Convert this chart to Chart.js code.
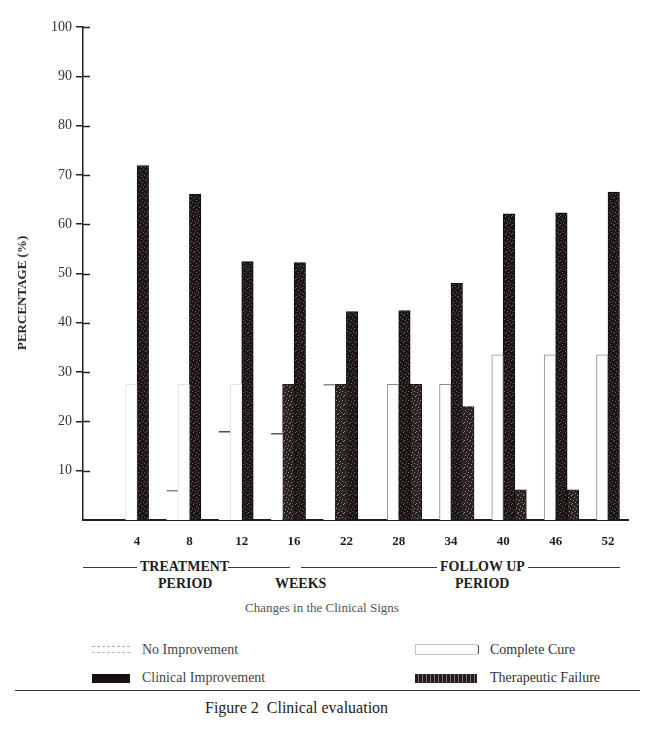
<!DOCTYPE html>
<html>
<head>
<meta charset="utf-8">
<script src="https://cdn.jsdelivr.net/npm/chart.js@4.4.1/dist/chart.umd.min.js"></script>
<style>
  body { margin: 0; background: #fff; }
  #wrap { position: relative; width: 650px; height: 732px; font-family: "Liberation Serif", "DejaVu Serif", serif; color: #333; overflow: hidden; }
  #chartBox { position: absolute; left: 0; top: 0; width: 650px; height: 548px; }
  .t { position: absolute; white-space: nowrap; line-height: 16px; height: 16px; }
  .b { font-weight: bold; font-size: 14px; color: #1e1e1e; }
  .rule { position: absolute; height: 0; border-top: 1.5px solid #3a3a3a; }
  .sw { position: absolute; }
</style>
</head>
<body>
<div id="wrap">
  <div id="chartBox"><canvas id="bars"></canvas></div>

  <div class="t b" style="left:22px;top:293px;font-size:13px;transform:translate(-50%,-50%) rotate(-90deg);">PERCENTAGE (%)</div>

  <!-- period brackets under the axis -->
  <div class="rule" style="left:83px;width:54px;top:567px;"></div>
  <div class="t b" style="left:140px;top:559px;">TREATMENT</div>
  <div class="rule" style="left:228px;width:62px;top:567px;"></div>
  <div class="rule" style="left:301px;width:136px;top:567px;"></div>
  <div class="t b" style="left:440px;top:559px;">FOLLOW UP</div>
  <div class="rule" style="left:528px;width:92px;top:567px;"></div>
  <div class="t b" style="left:158px;top:576px;">PERIOD</div>
  <div class="t b" style="left:275px;top:576px;">WEEKS</div>
  <div class="t b" style="left:455px;top:576px;">PERIOD</div>

  <div class="t" style="left:245px;top:600px;font-size:13px;color:#555;">Changes in the Clinical Signs</div>

  <!-- legend -->
  <div class="sw" style="left:92px;top:646px;width:38px;height:5px;border-top:1px dashed #aaa;border-bottom:1px dashed #bbb;"></div>
  <div class="t" style="left:142px;top:642px;font-size:14px;color:#444;">No Improvement</div>
  <div class="sw" style="left:415px;top:644px;width:62px;height:9px;border:1px solid #c4c4c4;border-right:1.5px solid #444;border-radius:0 3px 3px 0;"></div>
  <div class="t" style="left:490px;top:642px;font-size:14px;color:#333;">Complete Cure</div>
  <div class="sw" style="left:92px;top:674px;width:38px;height:9px;background:#161111;"></div>
  <div class="t" style="left:142px;top:670px;font-size:14px;color:#444;">Clinical Improvement</div>
  <div class="sw" style="left:415px;top:674px;width:62px;height:9px;background:repeating-linear-gradient(90deg,#231b1b 0 3px,#7a7070 3px 4px);"></div>
  <div class="t" style="left:490px;top:670px;font-size:14px;color:#333;">Therapeutic Failure</div>

  <div class="rule" style="left:15px;width:625px;top:690px;"></div>
  <div class="t" style="left:205px;top:700px;font-size:16px;color:#222;">Figure 2&nbsp; Clinical evaluation</div>
</div>

<script>
// Week labels along the x axis
const weeks = ['4', '8', '12', '16', '22', '28', '34', '40', '46', '52'];

// Percentages per group (null = no bar)
const noImprovement = [null, 6, 18, 17.6, 27.5, null, null, null, null, null];
const completeCure = [27.5, 27.5, 27.5, 27.5, 27.5, 27.5, 27.5, 33.5, 33.5, 33.5];
const clinicalImprovement = [71.9, 66.1, 52.4, 52.2, 42.3, 42.5, 48.0, 62.1, 62.3, 66.5];
const therapeuticFailure = [null, null, null, null, null, 27.5, 23, 6.1, 6.1, null];

// Y tick values
const yTicks = [10, 20, 30, 40, 50, 60, 70, 80, 90, 100];

// small fixed speckle texture for the dark bars
function speckle(base, dot) {
  const c = document.createElement('canvas');
  c.width = 6;
  c.height = 9;
  const g = c.getContext('2d');
  g.fillStyle = base;
  g.fillRect(0, 0, 6, 9);
  g.fillStyle = dot;
  [[1, 0], [4, 2], [0, 4], [3, 5], [5, 7], [2, 8]].forEach(([x, y]) => g.fillRect(x, y, 1, 1));
  return g.createPattern(c, 'repeat');
}

const darkFill = speckle('#1b1515', '#6e6464');
const textureFill = speckle('#2a2121', '#9a9090');

const toPoints = arr => arr.map((v, i) => ({ x: i + 1, y: v }));

// the scan shows the cure bars of weeks 16 and 22 shaded, and the early ones barely visible
const cureFill = completeCure.map((v, i) => (i === 3 || i === 4) ? textureFill : '#ffffff');
const cureBorder = completeCure.map((v, i) => i < 3 ? '#e2e2e2' : (i < 5 ? '#2a2121' : '#8a8a8a'));
const noImpBorder = ['#999', '#8a8a8a', '#4a4a4a', '#5a5a5a', '#8a8a8a', '#999', '#999', '#999', '#999', '#999'];

// tick marks that cross the y axis
const innerTicks = {
  id: 'innerTicks',
  afterDraw(chart) {
    const y = chart.scales.y;
    const ctx = chart.ctx;
    ctx.save();
    ctx.strokeStyle = '#222';
    ctx.lineWidth = 1.5;
    yTicks.forEach(v => {
      const py = Math.round(y.getPixelForValue(v)) + 0.5;
      ctx.beginPath();
      ctx.moveTo(y.right, py);
      ctx.lineTo(y.right + 7, py);
      ctx.stroke();
    });
    ctx.restore();
  }
};

const spacing = 52.32;
const xMin = 1 - 54.1 / spacing;
const xMax = xMin + 545 / spacing;

new Chart(document.getElementById('bars'), {
  type: 'bar',
  data: {
    datasets: [
      {
        label: 'No Improvement',
        data: toPoints(noImprovement),
        backgroundColor: '#ffffff',
        borderColor: noImpBorder,
        borderWidth: { top: 1.5, left: 0, right: 0, bottom: 0 },
        borderSkipped: false
      },
      {
        label: 'Complete Cure',
        data: toPoints(completeCure),
        backgroundColor: cureFill,
        borderColor: cureBorder,
        borderWidth: { top: 1, left: 1, right: 1, bottom: 0 },
        borderSkipped: false
      },
      {
        label: 'Clinical Improvement',
        data: toPoints(clinicalImprovement),
        backgroundColor: darkFill,
        borderColor: '#120e0e',
        borderWidth: 1
      },
      {
        label: 'Therapeutic Failure',
        data: toPoints(therapeuticFailure),
        backgroundColor: textureFill,
        borderColor: '#1a1414',
        borderWidth: 1
      }
    ]
  },
  options: {
    responsive: true,
    maintainAspectRatio: false,
    animation: false,
    barThickness: 11.5,
    layout: { padding: { top: 27, right: 22, left: 0, bottom: 0 } },
    plugins: {
      legend: { display: false },
      tooltip: { enabled: false }
    },
    scales: {
      x: {
        type: 'linear',
        offset: false,
        min: xMin,
        max: xMax,
        afterBuildTicks: s => { s.ticks = weeks.map((w, i) => ({ value: i + 1 })); },
        afterFit: s => { s.height = 28; },
        grid: { display: false },
        border: { display: true, color: '#1e1e1e', width: 2 },
        ticks: {
          autoSkip: false,
          maxRotation: 0,
          padding: 6,
          color: '#1e1e1e',
          font: { family: 'Liberation Serif', size: 13, weight: 'bold' },
          callback: v => weeks[v - 1]
        }
      },
      y: {
        min: 0,
        max: 100,
        afterBuildTicks: s => { s.ticks = yTicks.map(v => ({ value: v })); },
        afterFit: s => { s.width = 83; },
        grid: { drawOnChartArea: false, drawTicks: true, tickLength: 7, color: '#222', lineWidth: 1.5 },
        border: { display: true, color: '#222', width: 1.5 },
        ticks: {
          padding: 4,
          color: '#333',
          font: { family: 'Liberation Serif', size: 14 }
        }
      }
    }
  },
  plugins: [innerTicks]
});
</script>
</body>
</html>
